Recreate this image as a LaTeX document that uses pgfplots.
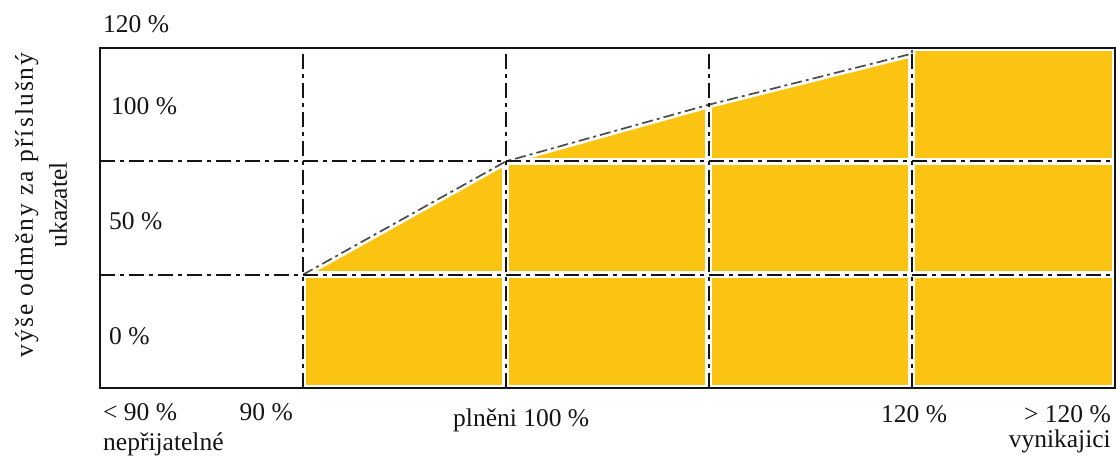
\documentclass[border=0pt]{standalone}
\usepackage{fontspec}
\setmainfont{Liberation Serif}
\usepackage{pgfplots}
\pgfplotsset{compat=1.18}
\definecolor{yel}{RGB}{251,196,18}
\definecolor{ink}{RGB}{20,20,20}
\begin{document}
\begin{tikzpicture}[every node/.style={inner sep=0pt, font=\fontsize{25.5}{30}\selectfont, text=ink}]
\useasboundingbox (-100pt,-74pt) rectangle (1016pt,388pt);
\begin{axis}[
  at={(0pt,0pt)}, anchor=south west,
  scale only axis, width=1015pt, height=340pt,
  xmin=0, xmax=5, ymin=0, ymax=3,
  xtick={1,2,3,4}, ytick={1,2},
  xticklabels={}, yticklabels={},
  major tick length=0pt,
  grid=major,
  major grid style={ink, line width=2pt, dash pattern=on 15pt off 5pt on 4pt off 5pt},
  axis line style={ink, line width=1.8pt},
  axis on top,
  clip=false,
]
\addplot[fill=yel, draw=none] table {
x y
1 1
2 2
3 2.5
4 2.95
4 3
5 3
} \closedcycle;
% white gaps between cells
\draw[white, line width=7pt] (axis cs:1,0) -- (axis cs:1,3);
\draw[white, line width=7pt] (axis cs:2,0) -- (axis cs:2,3);
\draw[white, line width=7pt] (axis cs:3,0) -- (axis cs:3,3);
\draw[white, line width=7pt] (axis cs:4,0) -- (axis cs:4,3);
\draw[white, line width=7pt] (axis cs:0,1) -- (axis cs:5,1);
\draw[white, line width=7pt] (axis cs:0,2) -- (axis cs:5,2);
\draw[white, line width=6pt] (axis cs:0,0) rectangle (axis cs:5,3);
\addplot[white, line width=7pt] table {
x y
1 1
2 2
3 2.5
4 2.95
4 3
};
\addplot[black!70, line width=1.7pt, dash pattern=on 11pt off 4pt on 3pt off 4pt] table {
x y
1 1
2 2
3 2.5
4 2.95
4 3
};
\end{axis}
% value labels inside
\node[anchor=base west] at (3pt,355pt) {120 \%};
\node[anchor=base west] at (11pt,273pt) {100 \%};
\node[anchor=base west] at (9pt,158pt) {50 \%};
\node[anchor=base west] at (9pt,43pt) {0 \%};
% bottom labels
\node[anchor=base west] at (3pt,-33pt) {< 90 \%};
\node[anchor=base west] at (3pt,-63pt) {nepřijatelné};
\node[anchor=base east] at (193pt,-33pt) {90 \%};
\node[anchor=base west] at (353pt,-39pt) {plněni 100 \%};
\node[anchor=base west] at (781pt,-35pt) {120 \%};
\node[anchor=base east] at (1011pt,-35pt) {> 120 \%};
\node[anchor=base east] at (1011pt,-60pt) {vynikajici};
% y label
\node[rotate=90, anchor=base] at (-67pt,183pt) {\addfontfeature{LetterSpace=8}výše odměny za příslušný};
\node[rotate=90, anchor=base] at (-33pt,183pt) {ukazatel};
\end{tikzpicture}
\end{document}
